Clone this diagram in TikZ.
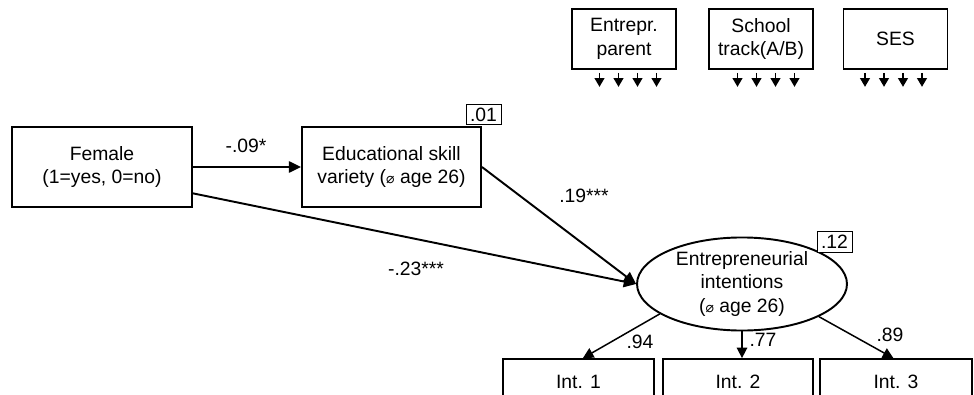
\documentclass[tikz,border=0pt]{standalone}
\usepackage{fontspec}
\setmainfont{Liberation Sans}
\newfontfamily\diamfont{DejaVu Sans}
\usetikzlibrary{shapes.geometric,arrows.meta,calc}
\newcommand{\diam}{{\diamfont\fontsize{8}{8}\selectfont ⌀}}

\begin{document}
\begin{tikzpicture}[x=0.02cm,y=-0.02cm,font=\fontsize{11}{13.6}\selectfont,
    box/.style={draw,line width=1.1pt,align=center,inner sep=0pt},
    rsq/.style={draw,fill=white,line width=0.5pt,inner sep=0pt,minimum width=0.7cm,minimum height=0.41cm},
    ind/.style={draw,line width=1pt,inner sep=0pt,minimum height=0.92cm},
    ctrl/.style={box,line width=1pt,minimum width=2.08cm,minimum height=1.2cm},
    lbl/.style={inner sep=0pt},
    path/.style={line width=1.1pt,-{Triangle[length=7pt,width=6.5pt]}},
    load/.style={line width=0.85pt,-{Triangle[length=6pt,width=6pt]}},
    tick/.style={line width=1.1pt,-{Triangle[length=5pt,width=5.5pt]}}]
  \useasboundingbox (0,0) rectangle (974,395);
  % predictors
  \node[box,minimum width=3.6cm,minimum height=1.6cm] (female) at (102,167) {Female\\(1=yes, 0=no)};
  \node[box,minimum width=3.58cm,minimum height=1.6cm] (skill) at (391.5,167) {Educational skill\\variety (\diam{} age 26)};
  \node[rsq] (rskill) at (483.5,114.5) {.01};
  % latent outcome
  \node[ellipse,draw,line width=1.1pt,minimum width=4.2cm,minimum height=1.8cm,inner sep=0pt,align=center] (intent) at (742,284) {Entrepreneurial\\intentions\\(\diam{} age 26)};
  \node[rsq] (rintent) at (834.5,242) {.12};
  % indicators
  \node[ind,minimum width=3.02cm] (int1) at (578.5,382) {Int. 1};
  \node[ind,minimum width=3.0cm] (int2) at (738,382) {Int. 2};
  \node[ind,minimum width=3.04cm] (int3) at (896,382) {Int. 3};
  % controls
  \node[ctrl] (parent) at (624,39) {Entrepr.\\parent};
  \node[ctrl] (track) at (761,39) {School\\track(A/B)};
  \node[ctrl] (ses) at (895.5,39) {SES};
  \foreach \ctl/\s in {parent/4,track/5,ses/-2} {
    \foreach \k [count=\i] in {-28.5,-9.5,9.5,28.5} {
      \coordinate (\ctl top\i) at ($(\ctl.south)+(\s+\k,3)$);
      \coordinate (\ctl tip\i) at ($(\ctl.south)+(\s+\k,17)$);
      \draw[tick] (\ctl top\i) -- (\ctl tip\i);
    }
  }
  % paths
  \draw[path] (female) -- (skill);
  \draw[path] ([yshift=-15pt]female.east) -- (intent.west);
  \draw[path] (skill.east) -- (intent.west);
  \node[lbl] (b1) at (246,146) {-.09*};
  \node[lbl] (b2) at (584,196) {.19***};
  \node[lbl] (b3) at (416,269) {-.23***};
  % loadings
  \draw[load] (intent.200) -- ([xshift=2.5pt]int1.north);
  \draw[load] (intent) -- (intent |- int2.north);
  \draw[load] (intent.337) -- ([xshift=-1.5pt]int3.north);
  \node[lbl] (l1) at (640,342) {.94};
  \node[lbl] (l2) at (763,340) {.77};
  \node[lbl] (l3) at (890,335) {.89};
\end{tikzpicture}
\end{document}
